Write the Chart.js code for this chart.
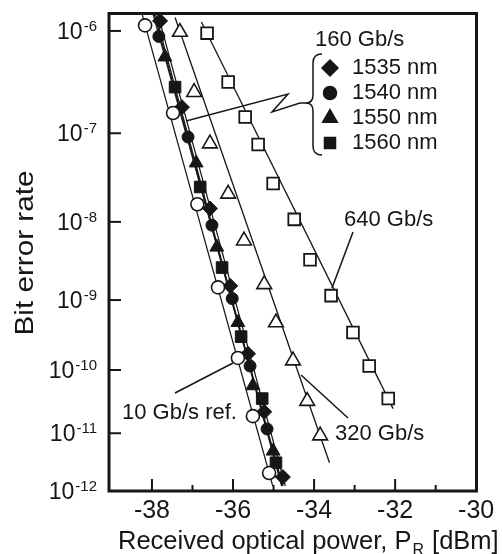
<!DOCTYPE html>
<html><head><meta charset="utf-8">
<script src="https://cdn.jsdelivr.net/npm/chart.js@4.4.1/dist/chart.umd.min.js"></script>
<style>html,body{margin:0;padding:0;background:#fff;}canvas{display:block;}</style>
</head><body>
<canvas id="c" width="502" height="554"></canvas>
<script>
// Received optical power [dBm] and log10(BER)
const ref10_x = [-38.17, -37.48, -36.88, -36.37, -35.88, -35.51, -35.11];
const ref10_logBer = [-5.95, -6.79, -7.79, -8.83, -9.82, -10.72, -11.68];
const g1535_x = [-37.80, -37.26, -36.57, -36.07, -35.63, -35.23, -34.77];
const g1535_logBer = [-5.91, -6.73, -7.84, -8.81, -9.76, -10.65, -11.75];
const g1540_x = [-37.83, -37.11, -36.52, -36.02, -35.58, -35.16];
const g1540_logBer = [-6.05, -7.04, -8.04, -8.98, -9.94, -10.93];
const g1550_x = [-37.68, -36.91, -36.40, -35.88, -35.51, -35.01];
const g1550_logBer = [-6.24, -7.32, -8.31, -9.31, -10.24, -11.30];
const g1560_x = [-37.43, -36.81, -36.27, -35.80, -35.28, -34.94];
const g1560_logBer = [-6.53, -7.59, -8.57, -9.51, -10.44, -11.50];
const g320_x = [-37.31, -36.96, -36.57, -36.12, -35.73, -35.23, -34.94, -34.52, -34.17, -33.85];
const g320_logBer = [-6.01, -6.58, -7.11, -7.67, -8.23, -8.79, -9.31, -9.86, -10.48, -11.04];
const g640_x = [-36.64, -36.12, -35.70, -35.38, -35.01, -34.49, -34.10, -33.58, -33.04, -32.64, -32.17];
const g640_logBer = [-6.02, -6.48, -6.83, -7.12, -7.55, -7.97, -8.47, -8.94, -9.45, -9.94, -10.44];

// fitted straight lines (end points)
const fitRef_x = [-38.25, -35.02], fitRef_logBer = [-5.84, -11.91];
const fit1535_x = [-37.86, -34.71], fit1535_logBer = [-5.84, -11.91];
const fit1540_x = [-37.98, -34.77], fit1540_logBer = [-5.84, -11.91];
const fit1550_x = [-37.95, -34.80], fit1550_logBer = [-5.84, -11.91];
const fit1560_x = [-37.92, -34.79], fit1560_logBer = [-5.84, -11.91];
const fit320_x = [-37.43, -33.62], fit320_logBer = [-5.88, -11.50];
const fit640_x = [-36.78, -32.05], fit640_logBer = [-5.92, -10.60];

// axes
const xTickValues = [-39, -38, -37, -36, -35, -34, -33, -32, -31, -30];
const xRange = [-39.06, -29.98];
const yDecades = [-6, -7, -8, -9, -10, -11, -12];
const yRangeLogBer = [-5.84, -12];

const legendLabels = ['1535 nm', '1540 nm', '1550 nm', '1560 nm'];

const INK = '#161616';
const FONT = "'Liberation Sans', Arial, Helvetica, sans-serif";
const Q = lb => Math.log10(-lb);                 // BER-scale transform
const pts = (xs, ys) => xs.map((x, i) => ({ x: x, y: Q(ys[i]) }));

function markerSet(label, xs, ys, style, r, filled, bw) {
  return { label, data: pts(xs, ys), showLine: false, pointStyle: style,
    pointRadius: r, pointHoverRadius: r,
    pointBackgroundColor: filled ? INK : '#ffffff', pointBorderColor: INK,
    pointBorderWidth: bw, order: 0 };
}
function fitSet(label, xs, ys, w) {
  return { label, data: pts(xs, ys), showLine: true, pointRadius: 0, borderColor: INK,
    borderWidth: w, fill: false, order: 1 };
}

function seg(ctx, p) {
  ctx.beginPath(); ctx.moveTo(p[0], p[1]);
  for (let i = 2; i < p.length; i += 2) ctx.lineTo(p[i], p[i + 1]);
  ctx.stroke();
}

const decor = {
  id: 'decor',
  afterDatasetsDraw(chart) {
    const ctx = chart.ctx, a = chart.chartArea;
    const xs = chart.scales.x, ys = chart.scales.y;
    ctx.save();
    ctx.strokeStyle = INK; ctx.fillStyle = INK; ctx.lineCap = 'butt';
    // frame
    ctx.lineWidth = 3;
    ctx.strokeRect(a.left, a.top + 0.5, a.right - a.left - 0.5, a.bottom - a.top - 0.5);
    // inward ticks
    ctx.lineWidth = 2;
    ys.ticks.forEach(t => {
      const y = ys.getPixelForValue(t.value);
      if (y > a.bottom - 3) return;
      seg(ctx, [a.left, y, a.left + 12, y]);
    });
    xs.ticks.forEach(t => {
      const x = xs.getPixelForValue(t.value);
      if (x < a.left + 4 || x > a.right - 4) return;
      const len = (Math.abs(t.value) % 2 === 0) ? 12 : 6;
      seg(ctx, [x, a.bottom, x, a.bottom - len]);
    });

    // y tick labels: 10 with superscript exponent
    ctx.textAlign = 'right'; ctx.textBaseline = 'middle';
    ys.ticks.forEach((t, i) => {
      const y = ys.getPixelForValue(t.value);
      const e = String(yDecades[i]);
      ctx.font = '15px ' + FONT;
      const we = ctx.measureText(e).width;
      ctx.fillText(e, a.left - 12, y - 4);
      ctx.font = '23px ' + FONT;
      ctx.fillText('10', a.left - 13 - we, y + 1.5);
    });

    // annotation leader lines
    ctx.lineWidth = 1.5;
    seg(ctx, [175, 393, 233, 363]);            // 10 Gb/s ref.
    seg(ctx, [301, 375, 348, 418]);            // 320 Gb/s
    seg(ctx, [353, 232, 332, 288]);            // 640 Gb/s
    seg(ctx, [186, 121, 288, 94, 272, 112, 300, 103, 307, 103]); // 160 Gb/s
    // brace
    ctx.beginPath();
    ctx.moveTo(322, 54);
    ctx.quadraticCurveTo(313, 54, 313, 63);
    ctx.lineTo(313, 95);
    ctx.quadraticCurveTo(313, 103, 306, 103);
    ctx.quadraticCurveTo(313, 103, 313, 111);
    ctx.lineTo(313, 146);
    ctx.quadraticCurveTo(313, 155, 322, 155);
    ctx.stroke();

    // legend markers
    const styles = [['rectRot', 8], ['circle', 6.5], ['triangle', 8.5], ['rect', 7.8]];
    const ly = [68, 93, 118, 143];
    styles.forEach((s, i) => {
      Chart.helpers.drawPoint(ctx, { pointStyle: s[0], radius: s[1], rotation: 0, borderWidth: 1 }, 330, ly[i]);
    });

    // texts
    ctx.font = '22px ' + FONT;
    ctx.textAlign = 'left'; ctx.textBaseline = 'middle';
    ctx.fillText('160 Gb/s', 315, 40);
    legendLabels.forEach((t, i) => ctx.fillText(t, 352, ly[i]));
    ctx.fillText('640 Gb/s', 344, 220);
    ctx.fillText('320 Gb/s', 335, 434);
    ctx.fillText('10 Gb/s ref.', 122, 413);

    // x-axis title with subscript
    ctx.textBaseline = 'alphabetic';
    ctx.font = '25.5px ' + FONT;
    let x = 118; const by = 549;
    const t1 = 'Received optical power, P';
    ctx.fillText(t1, x, by); x += ctx.measureText(t1).width;
    ctx.font = '16px ' + FONT;
    ctx.fillText('R', x + 1, by + 6); x += ctx.measureText('R').width + 2;
    ctx.font = '25.5px ' + FONT;
    ctx.fillText(' [dBm]', x, by);

    // y-axis title
    ctx.save();
    ctx.translate(26, 253);
    ctx.rotate(-Math.PI / 2);
    ctx.font = '25px ' + FONT;
    const yt = 'Bit error rate';
    const w = ctx.measureText(yt).width;
    ctx.scale(165 / w, 1);
    ctx.textAlign = 'center'; ctx.textBaseline = 'middle';
    ctx.fillText(yt, 0, 0);
    ctx.restore();

    ctx.restore();
  }
};

const chart = new Chart(document.getElementById('c'), {
  type: 'scatter',
  data: {
    datasets: [
      markerSet('10 Gb/s ref.', ref10_x, ref10_logBer, 'circle', 6.5, false, 1.6),
      markerSet('160 Gb/s 1535 nm', g1535_x, g1535_logBer, 'rectRot', 7.5, true, 1),
      markerSet('160 Gb/s 1540 nm', g1540_x, g1540_logBer, 'circle', 6, true, 1),
      markerSet('160 Gb/s 1550 nm', g1550_x, g1550_logBer, 'triangle', 8, true, 1),
      markerSet('160 Gb/s 1560 nm', g1560_x, g1560_logBer, 'rect', 8.2, true, 1),
      markerSet('320 Gb/s', g320_x, g320_logBer, 'triangle', 8.5, false, 1.6),
      markerSet('640 Gb/s', g640_x, g640_logBer, 'rect', 8.3, false, 1.8),
      fitSet('fit ref', fitRef_x, fitRef_logBer, 1.2),
      fitSet('fit 1535', fit1535_x, fit1535_logBer, 1.2),
      fitSet('fit 1540', fit1540_x, fit1540_logBer, 1.2),
      fitSet('fit 1550', fit1550_x, fit1550_logBer, 1.2),
      fitSet('fit 1560', fit1560_x, fit1560_logBer, 1.2),
      fitSet('fit 320', fit320_x, fit320_logBer, 1.3),
      fitSet('fit 640', fit640_x, fit640_logBer, 1.3)
    ]
  },
  options: {
    responsive: false, animation: false, devicePixelRatio: 1,
    layout: { padding: { left: 0, top: 13, right: 25, bottom: 0 } },
    plugins: { legend: { display: false }, tooltip: { enabled: false } },
    scales: {
      x: {
        type: 'linear', min: xRange[0], max: xRange[1],
        afterBuildTicks: s => { s.ticks = xTickValues.map(v => ({ value: v })); },
        afterFit: s => { s.height = 63; },
        grid: { display: false, drawTicks: false }, border: { display: false },
        ticks: { color: INK, font: { family: FONT, size: 25 }, padding: 5, maxRotation: 0, autoSkip: false,
          callback: v => (Math.abs(v) % 2 === 0 && v > -39) ? String(v) : '' }
      },
      y: {
        type: 'linear', reverse: true, min: Q(yRangeLogBer[0]), max: Q(yRangeLogBer[1]),
        afterBuildTicks: s => { s.ticks = yDecades.map(d => ({ value: Q(d) })); },
        afterFit: s => { s.width = 109; },
        grid: { display: false, drawTicks: false }, border: { display: false },
        ticks: { display: false }
      }
    }
  },
  plugins: [decor]
});
</script>
</body></html>
